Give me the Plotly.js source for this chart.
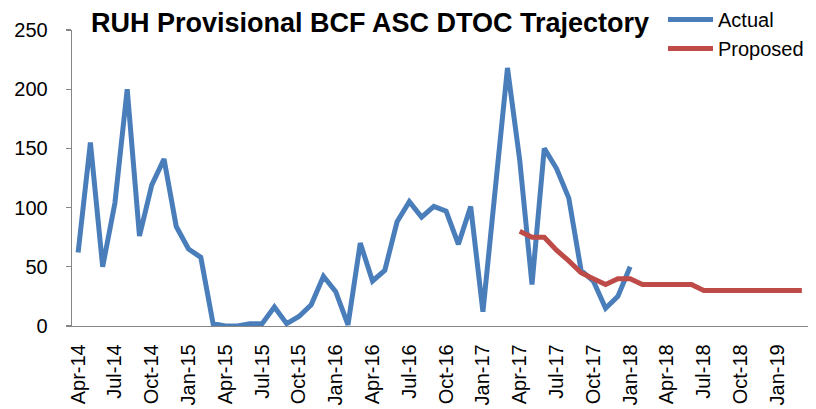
<!DOCTYPE html>
<html>
<head>
<meta charset="utf-8">
<script src="https://cdn.plot.ly/plotly-3.0.1.min.js"></script>
<style>html,body{margin:0;padding:0;background:#fff;}#chart{width:816px;height:409px;}</style>
</head>
<body>
<div id="chart"></div>
<script>
// All months on the axis (Apr-14 .. Mar-19)
var months = ["Apr-14","May-14","Jun-14","Jul-14","Aug-14","Sep-14","Oct-14","Nov-14","Dec-14","Jan-15","Feb-15","Mar-15",
  "Apr-15","May-15","Jun-15","Jul-15","Aug-15","Sep-15","Oct-15","Nov-15","Dec-15","Jan-16","Feb-16","Mar-16",
  "Apr-16","May-16","Jun-16","Jul-16","Aug-16","Sep-16","Oct-16","Nov-16","Dec-16","Jan-17","Feb-17","Mar-17",
  "Apr-17","May-17","Jun-17","Jul-17","Aug-17","Sep-17","Oct-17","Nov-17","Dec-17","Jan-18","Feb-18","Mar-18",
  "Apr-18","May-18","Jun-18","Jul-18","Aug-18","Sep-18","Oct-18","Nov-18","Dec-18","Jan-19","Feb-19","Mar-19"];

// Actual: Apr-14 .. Jan-18
var actualMonths = months.slice(0, 46);
var actualValues = [62,155,50,104,200,76,119,141,84,65,58,2,
  0,0,2,2,16,2,8,18,42,29,1,70,
  38,47,88,105,92,101,97,69,101,12,115,218,
  140,35,150,133,108,47,38,15,25,50];

// Proposed: Apr-17 .. Mar-19
var proposedMonths = months.slice(36, 60);
var proposedValues = [80,75,75,64,55,45,40,35,40,40,35,35,
  35,35,35,30,30,30,30,30,30,30,30,30];

// Labelled ticks every 3 months
var tickLabels = months.filter(function(m, i){ return i % 3 === 0; });
var yTicks = [0,50,100,150,200,250];

var blue = "#4A7EBB", red = "#BE4B48", axisGrey = "#868686";
var FONT = "Liberation Sans, Arial, sans-serif";

var boundaries = [];
for (var k = 0; k <= months.length; k += 3) boundaries.push(k - 0.5);

var data = [
  {x: actualMonths, y: actualValues, name: "Actual", type: "scatter", mode: "lines",
   line: {color: blue, width: 5}},
  {x: proposedMonths, y: proposedValues, name: "Proposed", type: "scatter", mode: "lines",
   line: {color: red, width: 5}}
];

var layout = {
  width: 816, height: 409,
  margin: {l: 72, r: 8, t: 30, b: 83, autoexpand: false},
  paper_bgcolor: "#fff", plot_bgcolor: "#fff",
  font: {family: FONT, size: 20, color: "#000"},
  title: {text: "RUH Provisional BCF ASC DTOC Trajectory",
    font: {family: FONT, size: 27, color: "#000", weight: "bold"},
    x: 370/816, xref: "container", xanchor: "center",
    y: 1 - 23/409, yref: "container", yanchor: "middle"},
  showlegend: true,
  legend: {x: 663/816, xref: "container", xanchor: "left",
    y: 1, yref: "container", yanchor: "top",
    font: {family: FONT, size: 20, color: "#000"},
    bgcolor: "rgba(0,0,0,0)", itemwidth: 45, tracegroupgap: 0},
  xaxis: {type: "category", categoryorder: "array", categoryarray: months,
    range: [-0.5, months.length - 0.5], automargin: false,
    tickmode: "array", tickvals: tickLabels, ticktext: tickLabels,
    tickangle: -90, ticks: "", showgrid: false, zeroline: false,
    showline: true, linecolor: axisGrey, linewidth: 1.3, ticklabelstandoff: 9,
    tickfont: {family: FONT, size: 20, color: "#000"}, fixedrange: true},
  xaxis2: {overlaying: "x", anchor: "y", side: "bottom", type: "linear",
    range: [-0.5, months.length - 0.5], automargin: false,
    tickmode: "array", tickvals: boundaries, ticktext: boundaries.map(function(){return "";}),
    showticklabels: false, ticks: "outside", ticklen: 6, tickwidth: 1.3, tickcolor: axisGrey,
    showgrid: false, zeroline: false, showline: false},
  yaxis: {range: [0, 250], tickmode: "array", tickvals: yTicks, automargin: false,
    ticks: "outside", ticklen: 5, tickwidth: 1.3, tickcolor: axisGrey,
    showline: true, linecolor: axisGrey, linewidth: 1.3,
    showgrid: false, zeroline: false, ticklabelstandoff: 14,
    tickfont: {family: FONT, size: 20, color: "#000"}, fixedrange: true}
};

Plotly.newPlot("chart", data, layout, {displayModeBar: false, staticPlot: true});
</script>
</body>
</html>
